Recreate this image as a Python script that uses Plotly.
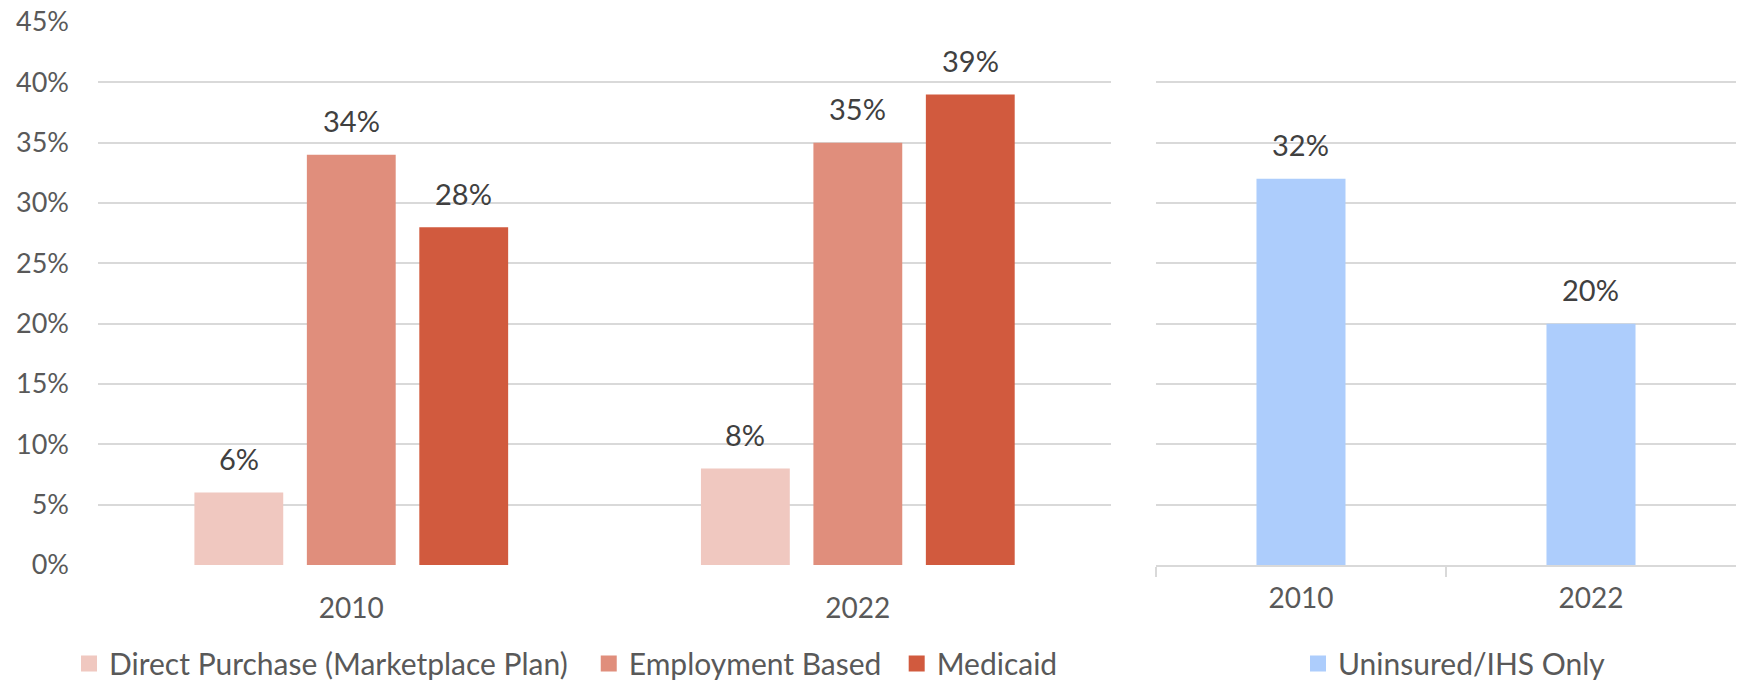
import plotly.graph_objects as go

# Coverage shares (percent) by year
years = ["2010", "2022"]
direct_purchase = [6, 8]
employment_based = [34, 35]
medicaid = [28, 39]
uninsured_ihs = [32, 20]

series_names = ["Direct Purchase (Marketplace Plan)", "Employment Based", "Medicaid"]
series_values = [direct_purchase, employment_based, medicaid]
series_colors = ["#F0C8C0", "#E08E7C", "#D15A3E"]
uninsured_name = "Uninsured/IHS Only"
uninsured_color = "#ADCDFC"

y_ticks = [0, 5, 10, 15, 20, 25, 30, 35, 40, 45]
y_tick_labels = [f"{t}%" for t in y_ticks]

FONT = "Lato, 'Open Sans', sans-serif"
GRID = "#D9D9D9"
TICK_TXT = "#595959"
LABEL_TXT = "#404040"
FS_YTICK = 27
FS_XTICK = 28
FS_LABEL = 29
FS_LEGEND = 30
LEGEND_SWATCH = 16

BARGAP = 0.334
BARGROUPGAP = 0.21
RIGHT_BAR_WIDTH = 0.307

fig = go.Figure()


def legend_swatch(name, color, legend_key, xaxis, yaxis):
    """Square legend key (larger than the default bar key)."""
    return go.Scatter(
        x=[None], y=[None], mode="markers", name=name,
        marker=dict(symbol="square", size=LEGEND_SWATCH, color=color, line=dict(width=0)),
        xaxis=xaxis, yaxis=yaxis, legend=legend_key, hoverinfo="skip",
    )


legend_keys = ["legend", "legend2", "legend3"]
for name, vals, color, lg in zip(series_names, series_values, series_colors, legend_keys):
    fig.add_trace(go.Bar(
        x=years, y=vals, name=name, marker=dict(color=color, line=dict(width=0)),
        xaxis="x", yaxis="y", showlegend=False, hoverinfo="skip",
    ))
    fig.add_trace(legend_swatch(name, color, lg, "x", "y"))

fig.add_trace(go.Bar(
    x=years, y=uninsured_ihs, name=uninsured_name,
    marker=dict(color=uninsured_color, line=dict(width=0)),
    width=RIGHT_BAR_WIDTH, xaxis="x2", yaxis="y2", showlegend=False, hoverinfo="skip",
))
fig.add_trace(legend_swatch(uninsured_name, uninsured_color, "legend4", "x2", "y2"))

# Value labels above each bar
annotations = []
n = len(series_values)
slot = (1 - BARGAP) / n
for j, vals in enumerate(series_values):
    for i, v in enumerate(vals):
        annotations.append(dict(
            x=i + (j - (n - 1) / 2) * slot, y=v, xref="x", yref="y",
            text=f"{v}%", showarrow=False, yanchor="middle", yshift=34,
            font=dict(family=FONT, size=FS_LABEL, color=LABEL_TXT),
        ))
for i, v in enumerate(uninsured_ihs):
    annotations.append(dict(
        x=i, y=v, xref="x2", yref="y2", text=f"{v}%", showarrow=False,
        yanchor="middle", yshift=34,
        font=dict(family=FONT, size=FS_LABEL, color=LABEL_TXT),
    ))

legend_common = dict(
    orientation="h", yanchor="middle", y=-0.1815, xanchor="left",
    font=dict(family=FONT, size=FS_LEGEND, color=TICK_TXT),
    bgcolor="rgba(0,0,0,0)", borderwidth=0,
)

fig.update_layout(
    width=1743, height=683,
    margin=dict(l=98, r=7, t=22, b=118, autoexpand=False),
    paper_bgcolor="white", plot_bgcolor="white",
    barmode="group", bargap=BARGAP, bargroupgap=BARGROUPGAP,
    font=dict(family=FONT, size=FS_XTICK, color=TICK_TXT),
    showlegend=True,
    legend=dict(legend_common, x=-0.0177),
    legend2=dict(legend_common, x=0.2996),
    legend3=dict(legend_common, x=0.4876),
    legend4=dict(legend_common, x=0.7326),
    annotations=annotations,
    xaxis=dict(
        domain=[0, 0.6185], type="category", categoryorder="array", categoryarray=years,
        showgrid=False, zeroline=False,
        showline=False, ticks="outside", ticklen=10, tickcolor="rgba(0,0,0,0)",
        ticklabelstandoff=8,
        tickfont=dict(family=FONT, size=FS_XTICK, color=TICK_TXT),
    ),
    yaxis=dict(
        range=[0, 45], tickvals=y_ticks, ticktext=y_tick_labels,
        showgrid=True, gridcolor=GRID, gridwidth=1.5, zeroline=False,
        showline=False, ticks="", ticklabelstandoff=28,
        tickfont=dict(family=FONT, size=FS_YTICK, color=TICK_TXT),
    ),
    xaxis2=dict(
        domain=[0.6459, 1], anchor="y2", type="category",
        categoryorder="array", categoryarray=years, showgrid=False,
        zeroline=False, showline=True, linecolor=GRID, linewidth=1.5,
        ticks="outside", ticklen=10, tickcolor=GRID, tickwidth=1.5,
        tickson="boundaries", ticklabelstandoff=8,
        tickfont=dict(family=FONT, size=FS_XTICK, color=TICK_TXT),
    ),
    yaxis2=dict(
        anchor="x2", range=[0, 45], tickvals=y_ticks, showticklabels=False,
        showgrid=True, gridcolor=GRID, gridwidth=1.5, zeroline=False,
        showline=False, ticks="",
    ),
)

fig.write_html("out.html")
